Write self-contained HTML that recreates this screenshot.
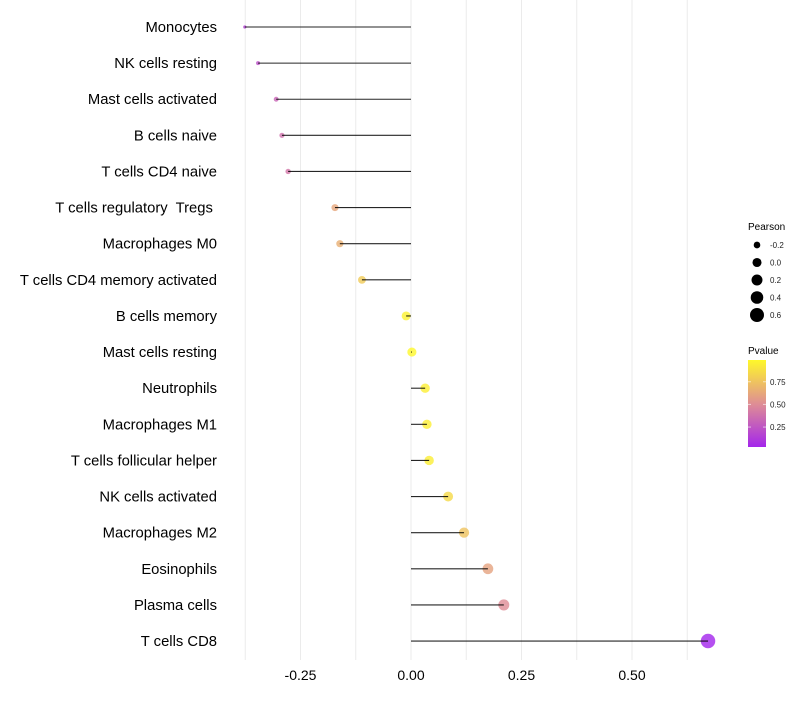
<!DOCTYPE html>
<html><head><meta charset="utf-8"><style>
body{margin:0;background:#fff;font-family:"Liberation Sans",sans-serif;}
text{white-space:pre;}
</style></head><body>
<svg id="chart" width="800" height="700" xmlns="http://www.w3.org/2000/svg"></svg>
<script>
const categories=["Monocytes","NK cells resting","Mast cells activated","B cells naive","T cells CD4 naive","T cells regulatory  Tregs ","Macrophages M0","T cells CD4 memory activated","B cells memory","Mast cells resting","Neutrophils","Macrophages M1","T cells follicular helper","NK cells activated","Macrophages M2","Eosinophils","Plasma cells","T cells CD8"];
const pearson=[-0.376,-0.346,-0.305,-0.292,-0.278,-0.172,-0.161,-0.111,-0.011,0.002,0.032,0.036,0.041,0.084,0.12,0.174,0.21,0.672];
const pvalue=[0.15,0.22,0.32,0.38,0.40,0.62,0.66,0.78,0.97,0.99,0.95,0.95,0.94,0.85,0.75,0.6,0.5,0.02];
const xTicks=[-0.25,0,0.25,0.5];
const xTickLabels=["-0.25","0.00","0.25","0.50"];
const xMinor=[-0.375,-0.125,0.125,0.375,0.625];
const sizeLegend=[-0.2,0,0.2,0.4,0.6];
const sizeLegendLabels=["-0.2","0.0","0.2","0.4","0.6"];
const pTicks=[0.25,0.5,0.75];
const pTickLabels=["0.25","0.50","0.75"];

const svg=document.getElementById('chart');
const NS="http://www.w3.org/2000/svg";
const x=v=>411+v*442;
const y=i=>27+i*36.12;
const rad=v=>Math.sqrt(Math.max(1.5,11+(v+0.2)*47.5));
const stops=[[0,[160,32,240]],[0.5,[222,140,150]],[1,[255,250,40]]];
function col(p){let a=stops[0],b=stops[1];if(p>0.5){a=stops[1];b=stops[2];}const t=(p-a[0])/(b[0]-a[0]);return `rgb(${a[1].map((c,k)=>Math.round(c+(b[1][k]-c)*t)).join(',')})`;}
function mk(t,at,parent){const e=document.createElementNS(NS,t);for(const k in at)e.setAttribute(k,at[k]);(parent||svg).appendChild(e);return e;}

xMinor.concat(xTicks).forEach(v=>{
  const l=mk('line',{x1:x(v),x2:x(v),y1:0,y2:660,stroke:'#ebebeb','stroke-width':1});
  
  
});
xTicks.forEach((v,i)=>{
  const t=mk('text',{x:x(v),y:680,'text-anchor':'middle','font-size':14,fill:'#000'});
  t.textContent=xTickLabels[i];
  
  
});
categories.forEach((c,i)=>{
  const t=mk('text',{x:217,y:y(i)+5,'text-anchor':'end','font-size':14.8,fill:'#000'});
  t.textContent=c;
  
  
  const d=mk('circle',{cx:x(pearson[i]),cy:y(i),r:rad(pearson[i]),fill:col(pvalue[i]),'fill-opacity':0.8});
  
  
  const l=mk('line',{x1:x(0),x2:x(pearson[i]),y1:y(i),y2:y(i),stroke:'#000','stroke-width':1.1,'stroke-opacity':0.85});
  
  
});
const lt=mk('text',{x:748,y:230,'font-size':10,fill:'#000'});lt.textContent='Pearson';


sizeLegend.forEach((v,i)=>{
  const cy=245+i*17.5;
  const c=mk('circle',{cx:757,cy:cy,r:rad(v),fill:'#000'});
  
  
  const t=mk('text',{x:770,y:cy+3,'font-size':8,fill:'#222'});t.textContent=sizeLegendLabels[i];
  
  
});
const pt=mk('text',{x:748,y:354,'font-size':10,fill:'#000'});pt.textContent='Pvalue';


const defs=mk('defs',{});
const g=mk('linearGradient',{id:'pg',x1:0,y1:1,x2:0,y2:0},defs);
[0.03,0.25,0.5,0.75,0.99].forEach(p=>mk('stop',{offset:((p-0.03)/0.96*100)+'%','stop-color':col(p)},g));
const pv=p=>447-(p-0.03)/(0.99-0.03)*87;
const bar=mk('rect',{x:748,y:360,width:18,height:87,fill:'url(#pg)'});


pTicks.forEach((p,i)=>{
  mk('line',{x1:748,x2:751,y1:pv(p),y2:pv(p),stroke:'#fff','stroke-opacity':0.6});
  mk('line',{x1:763,x2:766,y1:pv(p),y2:pv(p),stroke:'#fff','stroke-opacity':0.6});
  const t=mk('text',{x:770,y:pv(p)+3,'font-size':8,fill:'#222'});t.textContent=pTickLabels[i];
  
  
});
</script>
</body></html>
